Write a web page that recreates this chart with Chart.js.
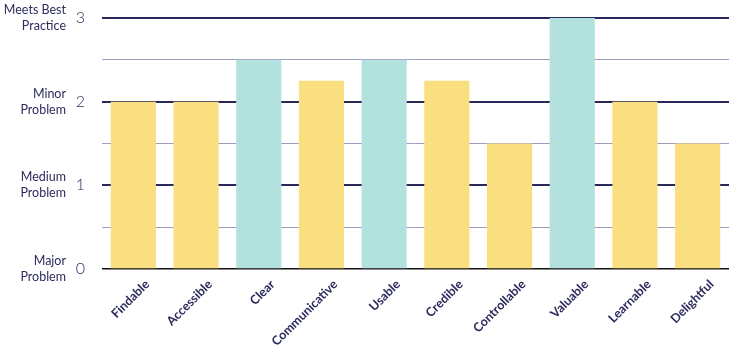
<!DOCTYPE html>
<html lang="en">
<head>
    <meta charset="UTF-8">
    <title>Heuristic Scores</title>
    <script src="https://cdn.jsdelivr.net/npm/chart.js"></script>
    <style>
        html, body { margin: 0; padding: 0; background: #fff; }
        .wrap { width: 738px; height: 355px; position: relative; }
    </style>
</head>
<body>
    <div class="wrap"><canvas id="scoreChart"></canvas></div>

    <script>
        // data
        const categories = ['Findable', 'Accessible', 'Clear', 'Communicative', 'Usable',
                            'Credible', 'Controllable', 'Valuable', 'Learnable', 'Delightful'];
        const scores = [2, 2, 2.5, 2.25, 2.5, 2.25, 1.5, 3, 2, 1.5];
        const highlighted = [false, false, true, false, true, false, false, true, false, false];
        const levelLabels = [['Major', 'Problem'], ['Medium', 'Problem'], ['Minor', 'Problem'], ['Meets Best', 'Practice']];

        const navy = '#2c2b5e';
        const yellow = '#f9df80';
        const teal = '#b3e2de';

        // keep the tall y labels from pushing the plot down
        const trimPadding = s => { s.paddingTop = 0; s.paddingBottom = 0; };

        const ctx = document.getElementById('scoreChart').getContext('2d');
        const chart = new Chart(ctx, {
            type: 'bar',
            data: {
                labels: categories,
                datasets: [{
                    data: scores,
                    backgroundColor: highlighted.map(h => h ? teal : yellow),
                    borderWidth: 0,
                    categoryPercentage: 0.72,
                    barPercentage: 1
                }]
            },
            options: {
                responsive: true,
                maintainAspectRatio: false,
                animation: false,
                layout: { padding: { top: 18, right: 9, left: 0, bottom: 0 } },
                plugins: {
                    legend: { display: false },
                    tooltip: { enabled: false }
                },
                scales: {
                    x: {
                        grid: { display: false },
                        border: { display: false },
                        ticks: {
                            color: navy,
                            font: { family: 'Lato', size: 12.5, weight: 'bold' },
                            minRotation: 45,
                            maxRotation: 45,
                            autoSkip: false,
                            padding: 0,
                            labelOffset: 14
                        },
                        afterFit: s => { s.height = 86; s.paddingLeft = 0; s.paddingRight = 0; }
                    },
                    y: {
                        position: 'left',
                        weight: 0,
                        min: 0,
                        max: 3,
                        grid: {
                            drawTicks: false,
                            color: c => c.tick.value === 0 ? '#111' : (c.tick.value % 1 === 0 ? '#28285a' : '#a09cbf'),
                            lineWidth: c => c.tick.value === 0 ? 1.5 : (c.tick.value % 1 === 0 ? 2 : 1)
                        },
                        border: { display: false },
                        ticks: {
                            stepSize: 0.5,
                            padding: 17,
                            color: navy,
                            font: { family: 'Lato', size: 16, weight: '300' },
                            callback: v => v % 1 === 0 ? String(v) : ''
                        },
                        afterFit: s => { s.width = 28; trimPadding(s); }
                    },
                    levels: {
                        position: 'left',
                        weight: 10,
                        min: 0,
                        max: 3,
                        grid: { display: false },
                        border: { display: false },
                        ticks: {
                            stepSize: 1,
                            padding: 0,
                            color: navy,
                            font: { family: 'Lato', size: 12.5, lineHeight: 1.3 },
                            callback: v => levelLabels[v]
                        },
                        afterFit: s => { s.width = 74; trimPadding(s); }
                    }
                }
            }
        });
    </script>
</body>
</html>
